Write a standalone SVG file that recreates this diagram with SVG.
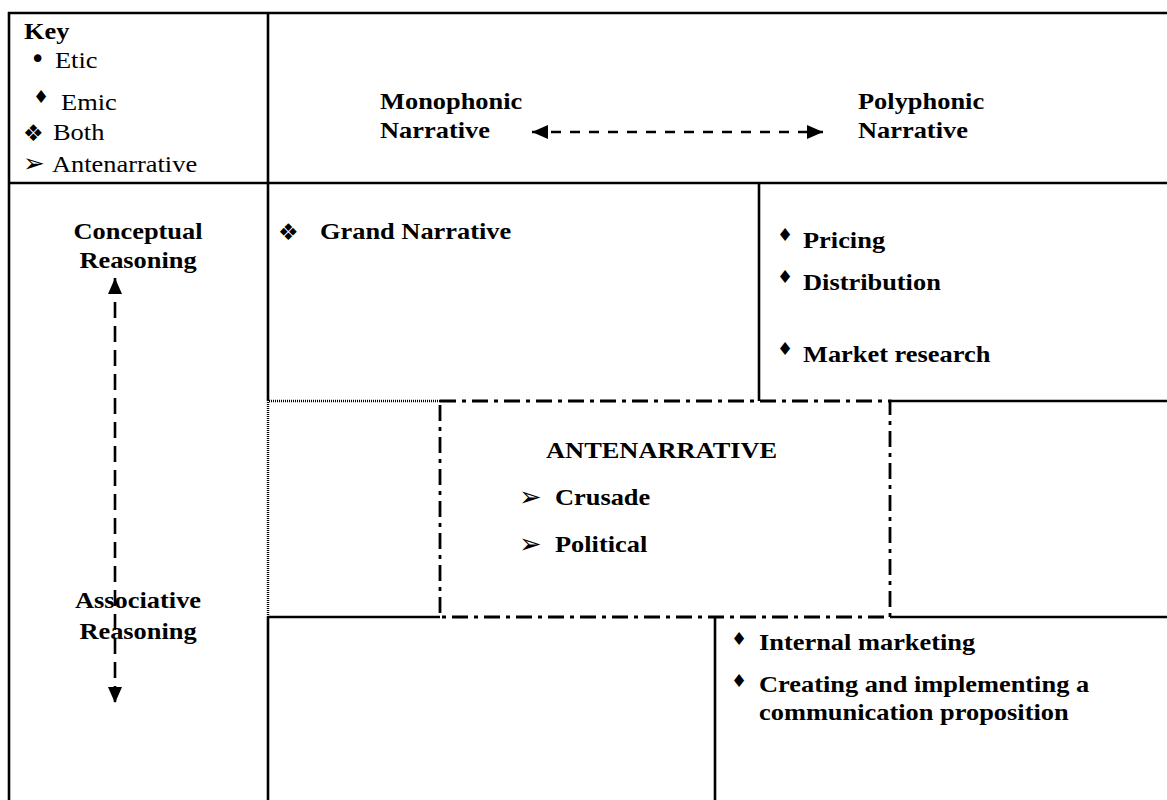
<svg xmlns="http://www.w3.org/2000/svg" width="1167" height="800" viewBox="0 0 1167 800">
<style>
.t{font-family:"Liberation Serif","Times New Roman",serif;font-size:24px;fill:#000}
.b{font-weight:bold}
.sym{font-family:"DejaVu Sans",sans-serif;fill:#000}
.ln{stroke:#000;stroke-width:2.6;fill:none}
.dot{stroke:#000;stroke-width:2.4;stroke-dasharray:1 1;fill:none}
.dd{stroke:#000;stroke-width:2.8;stroke-dasharray:16 6 4 6;fill:none}
.arr{stroke:#000;stroke-width:2.6;fill:none}
</style>
<defs>
<marker id="ah" markerUnits="userSpaceOnUse" markerWidth="16" markerHeight="14" refX="16" refY="7" orient="auto-start-reverse">
<path d="M0,0 L16,7 L0,14 z" fill="#000"/>
</marker>
</defs>
<rect width="1167" height="800" fill="#fff"/>
<g id="frame">
<line class="ln" x1="8" y1="13" x2="1167" y2="13"/>
<line class="ln" x1="9" y1="12" x2="9" y2="800"/>
<line class="ln" x1="8" y1="183" x2="1167" y2="183"/>
<line class="ln" x1="268" y1="13" x2="268" y2="401"/>
<line class="dot" x1="268" y1="402" x2="268" y2="617"/>
<line class="ln" x1="268" y1="617" x2="268" y2="800"/>
<line class="ln" x1="759" y1="183" x2="759" y2="401"/>
<line class="dot" x1="269" y1="401" x2="440" y2="401"/>
<line class="ln" x1="890" y1="401" x2="1167" y2="401"/>
<line class="ln" x1="268" y1="617" x2="440" y2="617"/>
<line class="ln" x1="890" y1="617" x2="1167" y2="617"/>
<line class="ln" x1="715" y1="617" x2="715" y2="800"/>
</g>
<g id="connectors">
<line class="arr" x1="532" y1="132" x2="823" y2="132" stroke-dasharray="10 9" marker-start="url(#ah)" marker-end="url(#ah)"/>
<line class="arr" x1="115" y1="278" x2="115" y2="703" stroke-dasharray="16 8" marker-start="url(#ah)" marker-end="url(#ah)"/>
</g>
<g id="antenarrative-box">
<rect class="dd" x="440" y="401" width="450" height="216"/>
<g transform="scale(1.1 1)">
<text class="t b" x="496.4" y="458">ANTENARRATIVE</text>
<text class="t b" x="504.5" y="505">Crusade</text>
<text class="t b" x="504.5" y="552">Political</text>
</g>
<text class="sym" x="519" y="506" font-size="27">➢</text>
<text class="sym" x="519" y="553" font-size="27">➢</text>
</g>
<g id="key">
<g transform="scale(1.1 1)">
<text class="t b" x="21.8" y="39">Key</text>
<text class="t" x="50" y="68">Etic</text>
<text class="t" x="55.5" y="110">Emic</text>
<text class="t" x="48.2" y="140">Both</text>
<text class="t" x="47.3" y="172">Antenarrative</text>
</g>
<text class="sym" x="30" y="68" font-size="26">•</text>
<text class="sym" x="33" y="103" font-size="18">♦</text>
<text class="sym" x="23" y="141" font-size="23">❖</text>
<text class="sym" x="23" y="172" font-size="26">➢</text>
</g>
<g id="monophonic">
<g transform="scale(1.1 1)">
<text class="t b" x="345.5" y="109">Monophonic</text>
<text class="t b" x="345.5" y="138">Narrative</text>
</g>
</g>
<g id="polyphonic">
<g transform="scale(1.1 1)">
<text class="t b" x="780" y="109">Polyphonic</text>
<text class="t b" x="780" y="138">Narrative</text>
</g>
</g>
<g id="conceptual">
<g transform="scale(1.1 1)">
<text class="t b" x="125.5" y="239" text-anchor="middle">Conceptual</text>
<text class="t b" x="125.5" y="268" text-anchor="middle">Reasoning</text>
</g>
</g>
<g id="associative">
<g transform="scale(1.1 1)">
<text class="t b" x="125.5" y="608" text-anchor="middle">Associative</text>
<text class="t b" x="125.5" y="639" text-anchor="middle">Reasoning</text>
</g>
</g>
<g id="grand-narrative">
<g transform="scale(1.1 1)">
<text class="t b" x="290.9" y="239">Grand Narrative</text>
</g>
<text class="sym" x="278" y="240" font-size="23">❖</text>
</g>
<g id="emic-top">
<g transform="scale(1.1 1)">
<text class="t b" x="730" y="248">Pricing</text>
<text class="t b" x="730" y="290">Distribution</text>
<text class="t b" x="730" y="362">Market research</text>
</g>
<text class="sym" x="777" y="241" font-size="18">♦</text>
<text class="sym" x="777" y="283" font-size="18">♦</text>
<text class="sym" x="777" y="355" font-size="18">♦</text>
</g>
<g id="emic-bottom">
<g transform="scale(1.1 1)">
<text class="t b" x="690" y="650">Internal marketing</text>
<text class="t b" x="690" y="692">Creating and implementing a</text>
<text class="t b" x="690" y="720">communication proposition</text>
</g>
<text class="sym" x="731" y="645" font-size="18">♦</text>
<text class="sym" x="731" y="687" font-size="18">♦</text>
</g>
</svg>
